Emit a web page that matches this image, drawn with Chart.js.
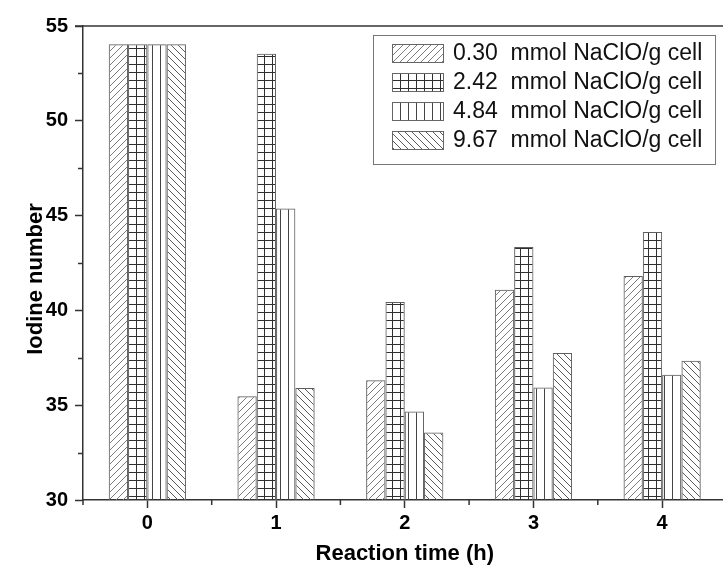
<!DOCTYPE html>
<html>
<head>
<meta charset="utf-8">
<script src="https://cdn.jsdelivr.net/npm/chart.js@4.4.1/dist/chart.umd.min.js"></script>
<style>
  html, body { margin: 0; padding: 0; overflow: hidden; background: #fff; }
</style>
</head>
<body>
<canvas id="grafico" width="728" height="565"></canvas>
<script>
// tempos de reação (h) e doses de NaClO
const tempos = ['0', '1', '2', '3', '4'];
const doses = ['0.30', '2.42', '4.84', '9.67'];

// número de iodo por dose
const iodo030 = [54.04, 35.47, 36.32, 41.09, 41.81];
const iodo242 = [54.04, 53.54, 40.44, 43.35, 44.14];
const iodo484 = [54.04, 45.38, 34.67, 35.93, 36.60];
const iodo967 = [54.04, 35.91, 33.56, 37.75, 37.35];

const yTicks = [30, 35, 40, 45, 50, 55];
const yMinor = [32.5, 37.5, 42.5, 47.5, 52.5];

const FONTE = "'Liberation Sans', Arial, sans-serif";
const COR_EIXO = '#333';

// ------------------- hachuras -------------------
function hachura(tipo) {
  const s = (tipo === 'grade' || tipo === 'vertical') ? 8 : 7;
  const c = document.createElement('canvas');
  c.width = s; c.height = s;
  const g = c.getContext('2d');
  g.lineWidth = 1;
  g.beginPath();
  if (tipo === 'barra') {          // "/"
    g.strokeStyle = '#7d7d7d';
    g.moveTo(0, s); g.lineTo(s, 0);
    g.moveTo(-1, 1); g.lineTo(1, -1);
    g.moveTo(s - 1, s + 1); g.lineTo(s + 1, s - 1);
  } else if (tipo === 'contra') {  // "\"
    g.strokeStyle = '#5a5a5a';
    g.moveTo(0, 0); g.lineTo(s, s);
    g.moveTo(s - 1, -1); g.lineTo(s + 1, 1);
    g.moveTo(-1, s - 1); g.lineTo(1, s + 1);
  } else if (tipo === 'grade') {
    g.strokeStyle = '#2f2f2f';
    g.moveTo(0.5, 0); g.lineTo(0.5, s);
    g.moveTo(0, 0.5); g.lineTo(s, 0.5);
  } else {                         // vertical
    g.strokeStyle = '#444';
    g.moveTo(0.5, 0); g.lineTo(0.5, s);
  }
  g.stroke();
  return g.createPattern(c, 'repeat');
}

const padroes = [hachura('barra'), hachura('grade'), hachura('vertical'), hachura('contra')];
const series = [iodo030, iodo242, iodo484, iodo967];

const datasets = series.map((valores, i) => ({
  label: doses[i] + '  mmol NaClO/g cell',
  data: valores,
  backgroundColor: padroes[i],
  borderColor: '#5e5e5e',
  borderWidth: 1,
  categoryPercentage: 0.6,
  barPercentage: 1.0
}));

// ------------------- moldura, ticks menores, título do eixo y e legenda -------------------
const moldura = {
  id: 'moldura',
  afterDraw(chart) {
    const { ctx, chartArea, scales: { x, y } } = chart;
    ctx.save();
    ctx.strokeStyle = COR_EIXO;
    ctx.lineWidth = 1.5;

    // linha superior
    ctx.beginPath();
    ctx.moveTo(chartArea.left - 8, chartArea.top);
    ctx.lineTo(chartArea.right, chartArea.top);
    ctx.stroke();

    // ticks menores
    ctx.beginPath();
    yMinor.forEach(v => {
      const py = Math.round(y.getPixelForValue(v)) + 0.5;
      ctx.moveTo(chartArea.left - 5, py);
      ctx.lineTo(chartArea.left, py);
    });
    for (let i = 0; i < tempos.length; i++) {
      const px = x.getPixelForValue(i - 0.5);
      ctx.moveTo(px, chartArea.bottom);
      ctx.lineTo(px, chartArea.bottom + 5);
    }
    ctx.stroke();

    // título do eixo y (um pouco abaixo do centro)
    ctx.save();
    ctx.translate(36, 279);
    ctx.rotate(-Math.PI / 2);
    ctx.font = 'bold 22px ' + FONTE;
    ctx.fillStyle = '#000';
    ctx.textAlign = 'center';
    ctx.textBaseline = 'middle';
    ctx.fillText('Iodine number', 0, 0);
    ctx.restore();

    // legenda
    const lx = 373, ly = 35, lw = 342, lh = 129;
    ctx.lineWidth = 1;
    ctx.strokeStyle = '#777';
    ctx.fillStyle = '#fff';
    ctx.fillRect(lx, ly, lw, lh);
    ctx.strokeRect(lx + 0.5, ly + 0.5, lw, lh);

    ctx.font = '23px ' + FONTE;
    ctx.textBaseline = 'middle';
    ctx.textAlign = 'left';
    chart.data.datasets.forEach((ds, i) => {
      const sy = 44 + i * 29;
      ctx.fillStyle = '#fff';
      ctx.fillRect(392, sy, 51, 18);
      ctx.fillStyle = ds.backgroundColor;
      ctx.fillRect(392, sy, 51, 18);
      ctx.strokeStyle = '#666';
      ctx.strokeRect(392.5, sy + 0.5, 51, 18);
      ctx.fillStyle = '#111';
      ctx.fillText(ds.label, 453, sy + 10);
    });
    ctx.restore();
  }
};

new Chart(document.getElementById('grafico'), {
  type: 'bar',
  data: { labels: tempos, datasets },
  options: {
    responsive: false,
    animation: false,
    layout: { padding: { top: 26, right: 1.5, left: 0, bottom: 0 } },
    plugins: { legend: { display: false }, tooltip: { enabled: false } },
    scales: {
      x: {
        offset: true,
        grid: { offset: false, drawOnChartArea: false, drawTicks: true, tickLength: 8, tickColor: COR_EIXO, tickWidth: 1.5 },
        border: { display: true, color: COR_EIXO, width: 1.5 },
        ticks: { color: '#000', padding: 3, font: { family: FONTE, size: 20, weight: 'bold' } },
        title: {
          display: true, text: 'Reaction time (h)', color: '#000',
          font: { family: FONTE, size: 22, weight: 'bold', lineHeight: 1 },
          padding: { top: 0, bottom: 0 }
        },
        afterFit: s => { s.height = 65; }
      },
      y: {
        min: 30, max: 55,
        afterBuildTicks: s => { s.ticks = yTicks.map(v => ({ value: v })); },
        grid: { drawOnChartArea: false, drawTicks: true, tickLength: 8, tickColor: COR_EIXO, tickWidth: 1.5 },
        border: { display: true, color: COR_EIXO, width: 1.5 },
        ticks: { color: '#000', padding: 7, font: { family: FONTE, size: 20, weight: 'bold' } },
        afterFit: s => { s.width = 83; }
      }
    }
  },
  plugins: [moldura]
});
</script>
</body>
</html>
